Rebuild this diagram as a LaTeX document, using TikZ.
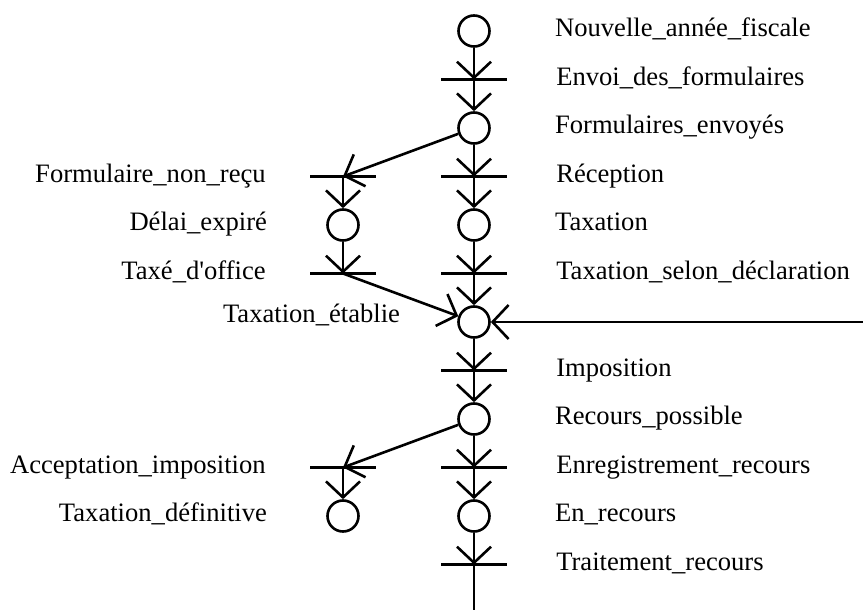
\documentclass[tikz,border=0pt]{standalone}
\usepackage{fontspec}
\setmainfont{Liberation Serif}
\usetikzlibrary{arrows.meta,positioning}

\begin{document}
\begin{tikzpicture}[->, >={Straight Barb[length=16pt,width=34pt]}, line width=2.6pt, node distance=48.5pt,
		place/.style={circle,draw,minimum size=31pt,inner sep=0pt},
		trans/.style={coordinate},
		txt/.style={font=\fontsize{26.6}{30}\selectfont,inner sep=0pt,text height=18pt,text depth=6.5pt}]
				\useasboundingbox (0,0) rectangle (863pt,-610pt);
				\node[place] (P1) at (474pt,-31pt) {};
				\node[trans] (T1) [below of=P1] {};
				\node[place] (P2) [below of=T1] {};
				\node[trans] (T2) [below of=P2] {};
				\node[place] (P3) [below of=T2] {};
				\node[trans] (T3) [below of=P3] {};
				\node[place] (P4) [below of=T3] {};
				\node[trans] (T4) [below of=P4] {};
				\node[place] (P5) [below of=T4] {};
				\node[trans] (T5) [below of=P5] {};
				\node[place] (P6) [below of=T5] {};
				\node[trans] (T6) [below of=P6] {};
				\node[trans] (TL1) [left of=T2,node distance=131pt] {};
				\node[place] (PL1) [below of=TL1] {};
				\node[trans] (TL2) [below of=PL1] {};
				\node[trans] (TL3) [left of=T5,node distance=131pt] {};
				\node[place] (PL3) [below of=TL3] {};
				\coordinate (in) at (863pt,-322pt);
				\coordinate (out) at (474pt,-610pt);

				\foreach \t in {T1,T2,T3,T4,T5,T6,TL1,TL2,TL3}
					\draw[-,line width=2.3pt] ([xshift=-33pt]\t) -- ([xshift=33pt]\t);

				\node[txt,right=63pt of P1] (nP1) {Nouvelle\_année\_fiscale};
				\node[txt,right=81pt of T1] (nT1) {Envoi\_des\_formulaires};
				\node[txt,right=63pt of P2] (nP2) {Formulaires\_envoyés};
				\node[txt,right=81pt of T2] (nT2) {Réception};
				\node[txt,right=63pt of P3] (nP3) {Taxation};
				\node[txt,right=81pt of T3] (nT3) {Taxation\_selon\_déclaration};
				\node[txt,left=56pt of P4,yshift=5pt] (nP4) {Taxation\_établie};
				\node[txt,right=81pt of T4] (nT4) {Imposition};
				\node[txt,right=63pt of P5] (nP5) {Recours\_possible};
				\node[txt,right=81pt of T5] (nT5) {Enregistrement\_recours};
				\node[txt,right=63pt of P6] (nP6) {En\_recours};
				\node[txt,right=81pt of T6] (nT6) {Traitement\_recours};
				\node[txt,left=76pt of TL1] (nTL1) {Formulaire\_non\_reçu};
				\node[txt,left=58pt of PL1] (nPL1) {Délai\_expiré};
				\node[txt,left=76pt of TL2] (nTL2) {Taxé\_d\textquotesingle office};
				\node[txt,left=76pt of TL3] (nTL3) {Acceptation\_imposition};
				\node[txt,left=58pt of PL3] (nPL3) {Taxation\_définitive};

				\path	(P1) edge (T1)
						(T1) edge (P2)
						(P2) edge (T2)
						(P2) edge (TL1)
						(TL1) edge (PL1)
						(PL1) edge (TL2)
						(TL2) edge (P4)
						(T2) edge (P3)
						(P3) edge (T3)
						(T3) edge (P4)
						(in) edge (P4)
						(P4) edge (T4)
						(T4) edge (P5)
						(P5) edge (T5)
						(P5) edge (TL3)
						(TL3) edge (PL3)
						(T5) edge (P6)
						(P6) edge (T6)
						(T6) edge[-] (out);
\end{tikzpicture}
\end{document}
